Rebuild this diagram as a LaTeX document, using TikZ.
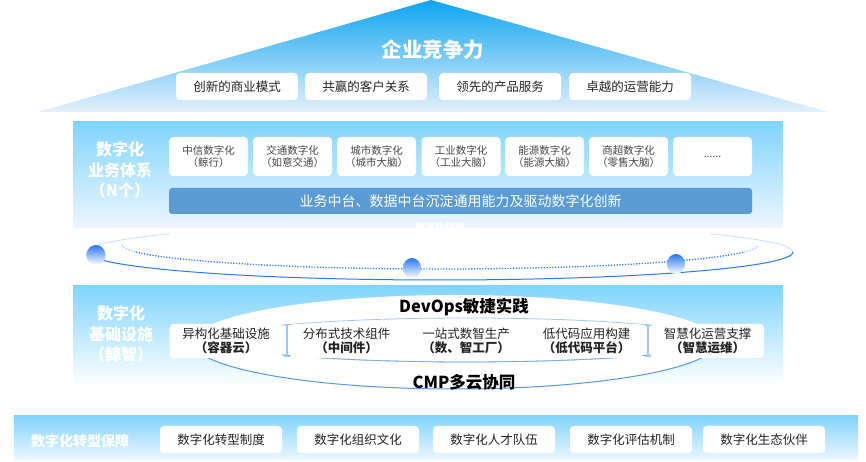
\documentclass[tikz,border=0pt]{standalone}
\usepackage{fontspec}
\setmainfont{Noto Sans CJK SC}
\definecolor{skyA}{RGB}{128,212,252}
\definecolor{skyB}{RGB}{238,246,255}
\definecolor{apexC}{RGB}{14,165,240}
\definecolor{triB}{RGB}{228,240,252}
\definecolor{barC}{RGB}{91,155,213}
\definecolor{ringC}{RGB}{40,120,240}
\definecolor{lensC}{RGB}{90,150,230}
\definecolor{softC}{RGB}{160,200,245}
\definecolor{txtC}{RGB}{35,35,35}
\definecolor{txtB}{RGB}{70,70,70}
\tikzset{
  wbox/.style={fill=white, rounded corners=4pt, draw=none, inner sep=0pt, align=center},
  topbox/.style={wbox, minimum width=122pt, minimum height=27pt, text=txtC, font=\fontsize{12.5}{14}\selectfont},
  bizbox/.style={wbox, minimum width=79pt, minimum height=39pt, text=txtB, font=\fontsize{10.5}{12.5}\selectfont},
  infbox/.style={wbox, minimum width=113pt, minimum height=34pt, text=txtC, font=\fontsize{12.5}{14.5}\selectfont},
  botbox/.style={wbox, minimum width=122pt, minimum height=27pt, text=txtC, font=\fontsize{12.5}{14}\selectfont},
  sidelbl/.style={text=white, font=\bfseries\fontsize{16}{20.5}\selectfont, align=center},
  sphere/.style={top color=ringC, bottom color=white}
}
\begin{document}
\begin{tikzpicture}[x=1pt,y=1pt]
\fill[white] (0,0) rectangle (866,462);
\useasboundingbox (0,0) rectangle (866,462);

% ---- pyramid top
\shade[top color=apexC, bottom color=triB] (431,462) -- (828,350) -- (38,350) -- cycle;
\node[text=white, font=\bfseries\fontsize{20.5}{24}\selectfont] (title) at (433,412) {企业竞争力};
\node[topbox] (t1) at (237,375.5) {创新的商业模式};
\node[topbox] (t2) at (366,375.5) {共赢的客户关系};
\node[topbox] (t3) at (500,375.5) {领先的产品服务};
\node[topbox] (t4) at (630,375.5) {卓越的运营能力};

% ---- business panel
\shade[top color=skyA, bottom color=skyB] (73,340) rectangle (783,234);
\node[sidelbl] (bizlbl) at (120,292) {数字化\\业务体系\\（N个）};
\node[bizbox] (z1) at (208.5,305.5) {中信数字化\\（鲸行）};
\node[bizbox] (z2) at (292.5,305.5) {交通数字化\\（如意交通）};
\node[bizbox] (z3) at (376.5,305.5) {城市数字化\\（城市大脑）};
\node[bizbox] (z4) at (461,305.5) {工业数字化\\（工业大脑）};
\node[bizbox] (z5) at (544.5,305.5) {能源数字化\\（能源大脑）};
\node[bizbox] (z6) at (628.5,305.5) {商超数字化\\（零售大脑）};
\node[bizbox] (z7) at (712.5,305.5) {......};
\node[fill=barC, rounded corners=3pt, minimum width=583pt, minimum height=26pt, inner sep=0pt,
      text=white, font=\fontsize{14}{16}\selectfont] (bar) at (460.5,261) {业务中台、数据中台沉淀通用能力及驱动数字化创新};
\node[text=white, font=\bfseries\fontsize{10}{12}\selectfont] (gong) at (440,234) {数字化供给};

% ---- ring
\draw[softC!60, line width=0.8pt] (87,210) arc[start angle=180, end angle=140, x radius=353pt, y radius=28pt];
\draw[softC!60, line width=0.8pt] (793,210) arc[start angle=0, end angle=40, x radius=353pt, y radius=28pt];
\draw[ringC, line width=1pt] (87,210) arc[start angle=180, end angle=360, x radius=353pt, y radius=28pt];
\draw[softC, line width=1.3pt, dash pattern=on 1.2pt off 1.6pt] (122,217) arc[start angle=180, end angle=197, x radius=318pt, y radius=24pt];
\draw[ringC, line width=1.3pt, dash pattern=on 1.2pt off 1.6pt] (440,217) ++(197:318pt and 24pt) arc[start angle=197, end angle=343, x radius=318pt, y radius=24pt];
\draw[softC, line width=1.3pt, dash pattern=on 1.2pt off 1.6pt] (440,217) ++(343:318pt and 24pt) arc[start angle=343, end angle=360, x radius=318pt, y radius=24pt];
\shade[sphere] (96,207) ellipse[x radius=9.5pt, y radius=10pt];
\shade[sphere] (412,194) ellipse[x radius=9pt, y radius=10pt];
\shade[sphere] (676,198) ellipse[x radius=9pt, y radius=10pt];

% ---- infrastructure panel
\shade[top color=skyA, bottom color=white] (73,176) rectangle (783,76);
\node[sidelbl] (inflbl) at (121,128) {数字化\\基础设施\\（鲸智）};
\fill[white] (455,120) ellipse[x radius=262pt, y radius=47pt];
\draw[lensC, line width=1pt] (193,120) arc[start angle=180, end angle=360, x radius=262pt, y radius=47pt];
\draw[softC, line width=0.8pt] (467,122) ellipse[x radius=250pt, y radius=22pt];
\draw[lensC!80, line width=0.8pt] (217,122) arc[start angle=180, end angle=360, x radius=250pt, y radius=22pt];
\node[text=black, font=\bfseries\fontsize{16.5}{18}\selectfont] (devops) at (464,155) {DevOps敏捷实践};
\node[text=black, font=\bfseries\fontsize{16.5}{18}\selectfont] (cmp) at (464,80) {CMP多云协同};
\draw[softC, line width=2pt] (287,137) -- (287,105);
\draw[softC, line width=1pt] (284,137) -- (290,137) (284,105) -- (290,105);
\draw[softC, line width=2pt] (648,136) -- (648,105);
\draw[softC, line width=1pt] (645,136) -- (651,136) (645,105) -- (651,105);
\node[infbox] (i1) at (226,121) {异构化基础设施\\\textbf{（容器云）}};
\node[infbox] (i2) at (346.5,121) {分布式技术组件\\\textbf{（中间件）}};
\node[infbox] (i3) at (466,121) {一站式数智生产\\\textbf{（数、智工厂）}};
\node[infbox] (i4) at (586.5,121) {低代码应用构建\\\textbf{（低代码平台）}};
\node[infbox] (i5) at (707.5,121) {智慧化运营支撑\\\textbf{（智慧运维）}};

% ---- guarantee panel
\shade[top color=skyA, bottom color=skyB] (14,46) rectangle (858,2);
\node[text=white, font=\bfseries\fontsize{14}{16}\selectfont] (grdlbl) at (80,21) {数字化转型保障};
\node[botbox] (g1) at (221,22.5) {数字化转型制度};
\node[botbox] (g2) at (358,22.5) {数字化组织文化};
\node[botbox] (g3) at (494,22.5) {数字化人才队伍};
\node[botbox] (g4) at (631,22.5) {数字化评估机制};
\node[botbox] (g5) at (764,22.5) {数字化生态伙伴};
\end{tikzpicture}
\end{document}
